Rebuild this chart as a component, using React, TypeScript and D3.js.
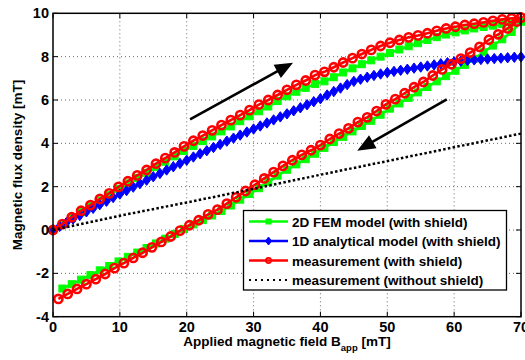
import React from 'react';
import * as d3 from 'd3';

const xTicks = [0, 10, 20, 30, 40, 50, 60, 70];
const yTicks = [-4, -2, 0, 2, 4, 6, 8, 10];

// ascending branch (shared x grid)
const xUp = [0, 1.4, 2.8, 4.2, 5.6, 7.0, 8.4, 9.8, 11.2, 12.6, 14.0, 15.4, 16.8, 18.2, 19.6, 21.0, 22.4, 23.8, 25.2, 26.6, 28.0, 29.4, 30.8, 32.2, 33.6, 35.0, 36.4, 37.8, 39.2, 40.6, 42.0, 43.4, 44.8, 46.2, 47.6, 49.0, 50.4, 51.8, 53.2, 54.6, 56.0, 57.4, 58.8, 60.2, 61.6, 63.0, 64.4, 65.8, 67.2, 68.6, 70.0];
const redUp = [0, 0.27, 0.59, 0.89, 1.15, 1.43, 1.69, 1.99, 2.25, 2.52, 2.77, 3.06, 3.32, 3.58, 3.86, 4.12, 4.36, 4.6, 4.84, 5.07, 5.3, 5.53, 5.79, 6.0, 6.23, 6.47, 6.7, 6.9, 7.15, 7.3, 7.51, 7.73, 7.93, 8.12, 8.31, 8.49, 8.64, 8.77, 8.89, 8.98, 9.08, 9.19, 9.3, 9.38, 9.46, 9.52, 9.58, 9.65, 9.72, 9.77, 9.8];
const greenUp = [0, 0.25, 0.55, 0.84, 1.1, 1.36, 1.62, 1.9, 2.15, 2.4, 2.64, 2.9, 3.15, 3.4, 3.65, 3.88, 4.1, 4.32, 4.55, 4.78, 5.02, 5.25, 5.48, 5.7, 5.95, 6.17, 6.38, 6.56, 6.74, 6.86, 7.05, 7.27, 7.46, 7.65, 7.83, 8.0, 8.17, 8.33, 8.48, 8.62, 8.77, 8.9, 9.02, 9.12, 9.21, 9.3, 9.37, 9.43, 9.5, 9.56, 9.62];

// descending branch, measurement
const xRedDown = [70.0, 69.4, 68.0, 66.6, 65.2, 63.8, 62.4, 61.0, 59.6, 58.2, 56.8, 55.4, 54.0, 52.6, 51.2, 49.8, 48.4, 47.0, 45.6, 44.2, 42.8, 41.4, 40.0, 38.6, 37.2, 35.8, 34.4, 33.0, 31.6, 30.2, 28.8, 27.4, 26.0, 24.6, 23.2, 21.8, 20.4, 19.0, 17.6, 16.2, 14.8, 13.4, 12.0, 10.6, 9.2, 7.8, 6.4, 5.0, 3.6, 2.2, 0.8];
const redDown = [9.8, 9.62, 9.3, 9.03, 8.78, 8.45, 8.19, 7.91, 7.65, 7.41, 7.13, 6.83, 6.59, 6.31, 6.04, 5.8, 5.49, 5.2, 4.98, 4.69, 4.45, 4.2, 3.92, 3.68, 3.47, 3.22, 2.96, 2.67, 2.38, 2.09, 1.8, 1.51, 1.22, 0.94, 0.72, 0.45, 0.22, -0.03, -0.3, -0.55, -0.8, -1.05, -1.29, -1.53, -1.76, -2.03, -2.27, -2.5, -2.72, -2.95, -3.18];

// descending branch, FEM
const xGreenDown = [70.0, 68.6, 67.2, 65.8, 64.4, 63.0, 61.6, 60.2, 58.8, 57.4, 56.0, 54.6, 53.2, 51.8, 50.4, 49.0, 47.6, 46.2, 44.8, 43.4, 42.0, 40.6, 39.2, 37.8, 36.4, 35.0, 33.6, 32.2, 30.8, 29.4, 28.0, 26.6, 25.2, 23.8, 22.4, 21.0, 19.6, 18.2, 16.8, 15.4, 14.0, 12.6, 11.2, 9.8, 8.4, 7.0, 5.6, 4.2, 2.8, 1.4];
const greenDown = [9.62, 9.14, 8.8, 8.51, 8.2, 7.9, 7.62, 7.35, 7.1, 6.86, 6.6, 6.35, 6.1, 5.84, 5.6, 5.32, 5.04, 4.8, 4.55, 4.3, 4.06, 3.79, 3.52, 3.27, 3.03, 2.78, 2.51, 2.21, 1.93, 1.66, 1.4, 1.13, 0.88, 0.67, 0.46, 0.26, 0.05, -0.18, -0.4, -0.62, -0.83, -1.04, -1.24, -1.45, -1.66, -1.86, -2.08, -2.29, -2.5, -2.7];

// 1D analytical model
const xBlue = d3.range(0, 71);
const blueY = [0, 0.17, 0.34, 0.51, 0.67, 0.84, 1.0, 1.17, 1.33, 1.5, 1.66, 1.82, 1.98, 2.14, 2.3, 2.46, 2.61, 2.77, 2.92, 3.07, 3.22, 3.37, 3.52, 3.66, 3.81, 3.95, 4.1, 4.24, 4.38, 4.52, 4.66, 4.8, 4.94, 5.08, 5.22, 5.36, 5.5, 5.64, 5.78, 5.92, 6.06, 6.23, 6.39, 6.55, 6.71, 6.86, 6.96, 7.05, 7.13, 7.2, 7.27, 7.32, 7.37, 7.42, 7.47, 7.52, 7.57, 7.62, 7.67, 7.72, 7.76, 7.79, 7.82, 7.85, 7.87, 7.89, 7.91, 7.93, 7.95, 7.97, 7.99];

// measurement without shield
const xNoShield = [0, 10, 20, 30, 40, 50, 60, 70];
const noShieldY = [0, 0.66, 1.27, 1.9, 2.55, 3.18, 3.82, 4.45];

const legendLabels = [
  '2D FEM model (with shield)',
  '1D analytical model (with shield)',
  'measurement (with shield)',
  'measurement (without shield)',
];

const FONT = 'Liberation Sans, Arial, Helvetica, sans-serif';

const W = 525, H = 360;
const L = 53, R = 521, T = 13.3, B = 316.7;

export default function App() {
  const x = d3.scaleLinear().domain([0, 70]).range([L, R]);
  const y = d3.scaleLinear().domain([-4, 10]).range([B, T]);
  const line = d3.line<[number, number]>().x(d => x(d[0])).y(d => y(d[1]));

  const zip = (xs: number[], ys: number[]) => xs.map((v, i) => [v, ys[i]] as [number, number]);
  const green = [...zip(xUp, greenUp), ...zip(xGreenDown, greenDown)];
  const red = [...zip(xUp, redUp), ...zip(xRedDown, redDown)];
  const blue = zip(xBlue, blueY);
  const dotted = zip(xNoShield, noShieldY);

  const square = (cx: number, cy: number, s: number, key: any) => (
    <rect key={key} x={cx - s / 2} y={cy - s / 2} width={s} height={s} fill="#00ff00" stroke="#00ff00" strokeWidth={1} />
  );
  const diamond = (cx: number, cy: number, hw: number, hh: number, key: any) => (
    <path key={key} d={`M${cx},${cy - hh}L${cx + hw},${cy}L${cx},${cy + hh}L${cx - hw},${cy}Z`} fill="#0000ff" stroke="#0000ff" strokeWidth={1} />
  );
  const circle = (cx: number, cy: number, r: number, sw: number, key: any) => (
    <circle key={key} cx={cx} cy={cy} r={r} fill="none" stroke="#ff0000" strokeWidth={sw} />
  );

  const arrow = (x0: number, y0: number, x1: number, y1: number, key: string) => {
    const px0 = x(x0), py0 = y(y0), px1 = x(x1), py1 = y(y1);
    const dx = px1 - px0, dy = py1 - py0;
    const len = Math.hypot(dx, dy);
    const ux = dx / len, uy = dy / len;
    const hl = 18, hw = 7.5;
    const bx = px1 - ux * hl, by = py1 - uy * hl;
    return (
      <g key={key}>
        <line x1={px0} y1={py0} x2={bx + ux * 2} y2={by + uy * 2} stroke="#000" strokeWidth={2.6} />
        <path d={`M${px1},${py1}L${bx - uy * hw},${by + ux * hw}L${bx + uy * hw},${by - ux * hw}Z`} fill="#000" />
      </g>
    );
  };

  const legY = [221.5, 241, 260.5, 280];
  const lx0 = 249, lx1 = 288, lm = 268.5;

  return (
    <svg width={W} height={H} style={{ position: 'absolute', left: 0, top: 0, background: '#fff' }} fontFamily={FONT}>
      <rect x={0} y={0} width={W} height={H} fill="#fff" />
      {/* grid */}
      <g stroke="#444" strokeWidth={0.8} strokeDasharray="1 3">
        {xTicks.slice(1, -1).map(t => <line key={'gx' + t} x1={x(t)} x2={x(t)} y1={T} y2={B} />)}
        {yTicks.slice(1, -1).map(t => <line key={'gy' + t} x1={L} x2={R} y1={y(t)} y2={y(t)} />)}
      </g>
      {/* ticks */}
      <g stroke="#000" strokeWidth={1}>
        {xTicks.map(t => <line key={'tb' + t} x1={x(t)} x2={x(t)} y1={B} y2={B - 5} />)}
        {xTicks.map(t => <line key={'tt' + t} x1={x(t)} x2={x(t)} y1={T} y2={T + 5} />)}
        {yTicks.map(t => <line key={'tl' + t} x1={L} x2={L + 5} y1={y(t)} y2={y(t)} />)}
        {yTicks.map(t => <line key={'tr' + t} x1={R} x2={R - 5} y1={y(t)} y2={y(t)} />)}
      </g>

      {/* series */}
      <path d={line(green) || ''} fill="none" stroke="#00ff00" strokeWidth={2.6} />
      {green.map((d, i) => square(x(d[0]), y(d[1]), 7, 'g' + i))}
      <path d={line(blue) || ''} fill="none" stroke="#0000ff" strokeWidth={2.6} />
      {blue.map((d, i) => diamond(x(d[0]), y(d[1]), 3.9, 5.2, 'b' + i))}
      <path d={line(red) || ''} fill="none" stroke="#ff0000" strokeWidth={2.6} />
      {red.map((d, i) => circle(x(d[0]), y(d[1]), 4.1, 2.6, 'r' + i))}
      <path d={line(dotted) || ''} fill="none" stroke="#000" strokeWidth={2.5} strokeDasharray="2.5 2.3" />

      {/* arrows */}
      {arrow(20.5, 5.11, 35.9, 7.72, 'up')}
      {arrow(58.9, 6.03, 45.5, 3.66, 'down')}

      {/* frame */}
      <rect x={L} y={T} width={R - L} height={B - T} fill="none" stroke="#000" strokeWidth={1.5} />

      {/* tick labels */}
      <g fontSize={14.5} fontWeight="bold" fill="#000">
        {xTicks.map(t => <text key={'xl' + t} x={x(t)} y={332} textAnchor="middle">{t}</text>)}
        {yTicks.map(t => <text key={'yl' + t} x={49} y={y(t) + 5} textAnchor="end">{t}</text>)}
      </g>

      {/* axis labels */}
      <text x={287} y={346} textAnchor="middle" fontSize={13.5} fontWeight="bold">
        Applied magnetic field B<tspan dy={5} fontSize={9.5}>app</tspan><tspan dy={-5}> [mT]</tspan>
      </text>
      <text transform={`translate(22,${(T + B) / 2}) rotate(-90)`} textAnchor="middle" fontSize={13.5} fontWeight="bold">
        Magnetic flux density [mT]
      </text>

      {/* legend */}
      <rect x={243.5} y={210.5} width={263} height={79.5} fill="#fff" stroke="#000" strokeWidth={1.3} />
      <line x1={lx0} x2={lx1} y1={legY[0]} y2={legY[0]} stroke="#00ff00" strokeWidth={2.6} />
      {square(lm, legY[0], 5, 'lg')}
      <line x1={lx0} x2={lx1} y1={legY[1]} y2={legY[1]} stroke="#0000ff" strokeWidth={2.6} />
      {diamond(lm, legY[1], 3, 4, 'lb')}
      <line x1={lx0} x2={lx1} y1={legY[2]} y2={legY[2]} stroke="#ff0000" strokeWidth={2.6} />
      {circle(lm, legY[2], 2.6, 1.6, 'lr')}
      <line x1={lx0} x2={lx1} y1={legY[3]} y2={legY[3]} stroke="#000" strokeWidth={2} strokeDasharray="2 4" />
      <g fontSize={13.5} fontWeight="bold" fill="#000">
        {legendLabels.map((s, i) => <text key={'lt' + i} x={292} y={legY[i] + 5}>{s}</text>)}
      </g>
    </svg>
  );
}
